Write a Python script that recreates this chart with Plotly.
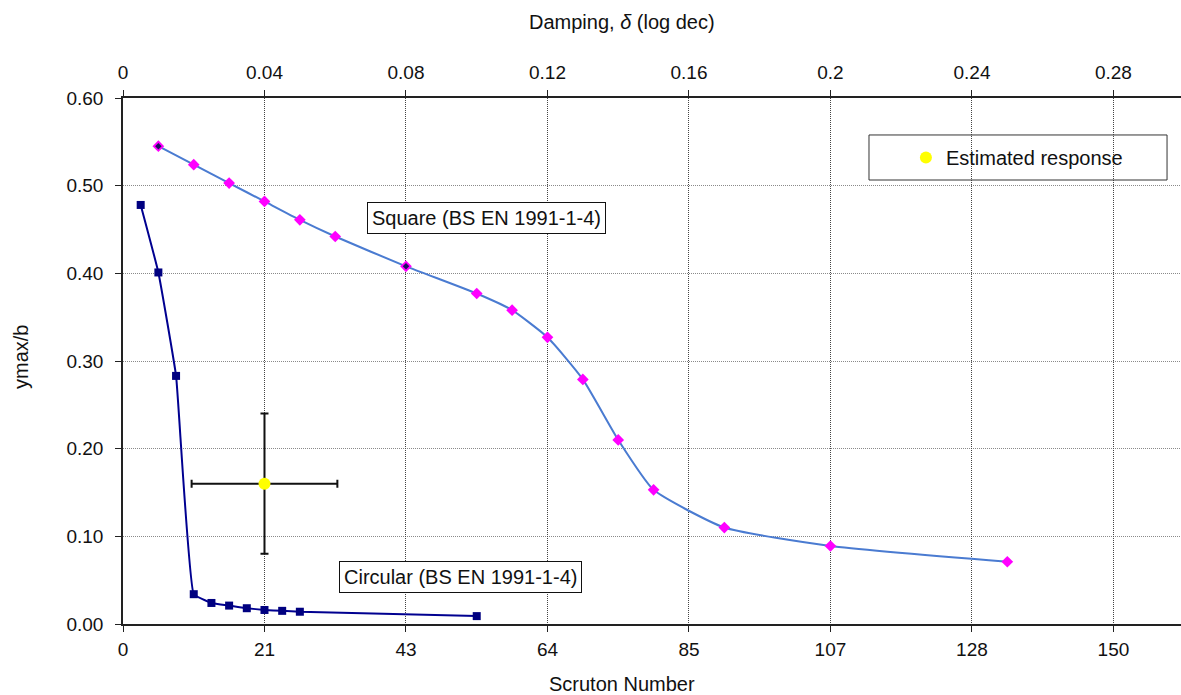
import plotly.graph_objects as go

# Logarithmic decrement damping values and normalised response amplitudes
square_delta = [0.01, 0.02, 0.03, 0.04, 0.05, 0.06, 0.08, 0.10, 0.11, 0.12,
                0.13, 0.14, 0.15, 0.17, 0.20, 0.25]
square_ymax = [0.545, 0.524, 0.503, 0.482, 0.461, 0.442, 0.408, 0.377, 0.358, 0.327,
               0.279, 0.210, 0.153, 0.110, 0.089, 0.071]

circular_delta = [0.005, 0.01, 0.015, 0.02, 0.025, 0.03, 0.035, 0.04, 0.045, 0.05, 0.10]
circular_ymax = [0.478, 0.401, 0.283, 0.034, 0.024, 0.021, 0.018, 0.016, 0.015, 0.014, 0.009]

# points where an underlying dark marker shows through the square series
overlap_delta = [0.01, 0.08]
overlap_ymax = [0.545, 0.408]

estimate_delta = [0.04]
estimate_ymax = [0.16]
estimate_delta_err = [0.0206]
estimate_ymax_err = [0.08]

delta_ticks = [0, 0.04, 0.08, 0.12, 0.16, 0.2, 0.24, 0.28]
scruton_ticks = [0, 150 / 7, 300 / 7, 450 / 7, 600 / 7, 750 / 7, 900 / 7, 150]
scruton_labels = ["0", "21", "43", "64", "85", "107", "128", "150"]
y_ticks = [0.0, 0.1, 0.2, 0.3, 0.4, 0.5, 0.6]

SC_PER_DELTA = 150 / 0.28
DELTA_MAX = 0.2991

FONT = "Liberation Sans, Arial, sans-serif"
TICK_SIZE = 19
TEXT_SIZE = 20

fig = go.Figure()

# keeps the bottom (Scruton) axis on the page
fig.add_trace(go.Scatter(x=[], y=[], xaxis="x", yaxis="y", showlegend=False,
                         hoverinfo="skip"))

fig.add_trace(go.Scatter(
    x=square_delta, y=square_ymax, xaxis="x2", yaxis="y",
    mode="lines+markers", name="Square (BS EN 1991-1-4)", showlegend=False,
    line=dict(color="#4a7bd1", width=2, shape="spline", smoothing=0.5),
    marker=dict(symbol="diamond", size=9, color="#ff00ff"),
))

fig.add_trace(go.Scatter(
    x=overlap_delta, y=overlap_ymax, xaxis="x2", yaxis="y",
    mode="markers", showlegend=False,
    marker=dict(symbol="diamond", size=5, color="#1a1060"),
))

fig.add_trace(go.Scatter(
    x=circular_delta, y=circular_ymax, xaxis="x2", yaxis="y",
    mode="lines+markers", name="Circular (BS EN 1991-1-4)", showlegend=False,
    line=dict(color="#000090", width=2, shape="spline", smoothing=0.3),
    marker=dict(symbol="square", size=8, color="#000080"),
))

fig.add_trace(go.Scatter(
    x=estimate_delta, y=estimate_ymax, xaxis="x2", yaxis="y",
    mode="markers", name="Estimated response",
    marker=dict(symbol="circle", size=12, color="#ffff00"),
    error_x=dict(type="data", array=estimate_delta_err, color="#111111",
                 thickness=2, width=4),
    error_y=dict(type="data", array=estimate_ymax_err, color="#111111",
                 thickness=2, width=4),
))

axis_common = dict(
    showline=True, linecolor="#222222", linewidth=1.5,
    ticks="outside", ticklen=6, tickcolor="#222222", tickwidth=1,
    tickfont=dict(family=FONT, size=TICK_SIZE, color="#111111"),
    zeroline=False,
)

fig.update_layout(
    width=1181, height=695,
    margin=dict(l=123, r=0, t=98, b=71),
    paper_bgcolor="white", plot_bgcolor="white",
    font=dict(family=FONT, color="#111111"),
    xaxis=dict(
        range=[0, DELTA_MAX * SC_PER_DELTA],
        tickmode="array", tickvals=scruton_ticks, ticktext=scruton_labels,
        showgrid=False, side="bottom", anchor="y",
        ticklabelstandoff=1,
        **axis_common,
    ),
    xaxis2=dict(
        range=[0, DELTA_MAX],
        tickmode="array", tickvals=delta_ticks,
        ticktext=[f"{v:g}" for v in delta_ticks],
        overlaying="x", side="top", anchor="y",
        showgrid=True, gridcolor="#444444", gridwidth=1, griddash="1px,1px",
        ticklabelstandoff=4,
        **axis_common,
    ),
    yaxis=dict(
        range=[0, 0.6], tickmode="array", tickvals=y_ticks,
        tickformat=".2f",
        showgrid=True, gridcolor="#8a8a8a", gridwidth=1, griddash="1px,1px",
        ticklabelstandoff=8,
        **axis_common,
    ),
    showlegend=True,
    legend=dict(
        x=0.740, y=0.887, xanchor="left", yanchor="middle",
        bgcolor="rgba(0,0,0,0)", borderwidth=0,
        font=dict(family=FONT, size=TEXT_SIZE, color="#111111"),
    ),
)

# legend frame
fig.add_shape(type="rect", xref="paper", yref="paper",
              x0=0.7051, x1=0.9868, y0=0.8441, y1=0.9297,
              line=dict(color="#333333", width=1), fillcolor="rgba(0,0,0,0)",
              layer="above")

label_style = dict(
    showarrow=False, font=dict(family=FONT, size=TEXT_SIZE, color="#111111"),
    bgcolor="white", bordercolor="#111111", borderwidth=1, borderpad=4,
)
fig.add_annotation(x=0.1028, y=0.4628, xref="x2", yref="y",
                   text="Square (BS EN 1991-1-4)", **label_style)
fig.add_annotation(x=0.0953, y=0.0535, xref="x2", yref="y",
                   text="Circular (BS EN 1991-1-4)", **label_style)

title_font = dict(family=FONT, size=TEXT_SIZE, color="#111111")
fig.add_annotation(x=0.4716, y=1.1445, xref="paper", yref="paper",
                   text="Damping, <i>δ</i> (log dec)", showarrow=False,
                   font=title_font, xanchor="center", yanchor="middle")
fig.add_annotation(x=0.4716, y=-0.114, xref="paper", yref="paper",
                   text="Scruton Number", showarrow=False,
                   font=title_font, xanchor="center", yanchor="middle")
fig.add_annotation(x=-0.0964, y=0.5076, xref="paper", yref="paper",
                   text="ymax/b", showarrow=False, textangle=-90,
                   font=title_font, xanchor="center", yanchor="middle")

fig.write_html("out.html")
